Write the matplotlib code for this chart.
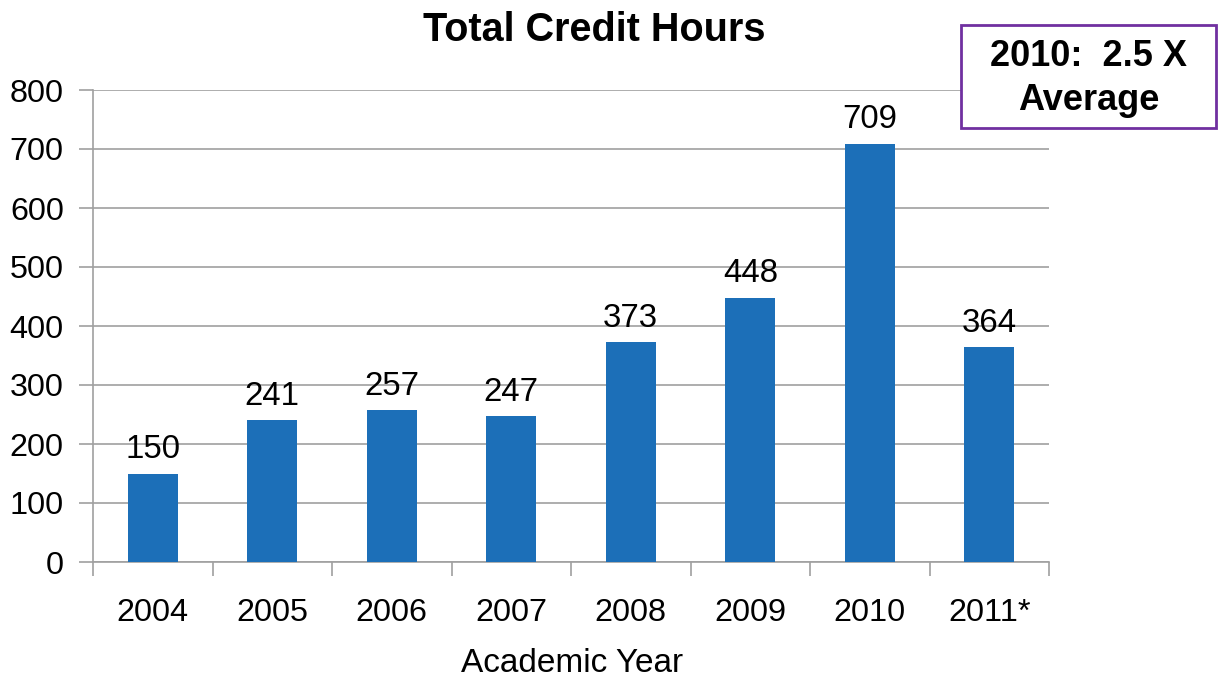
import matplotlib
matplotlib.use("Agg")
import matplotlib.pyplot as plt
import numpy as np

years = ["2004", "2005", "2006", "2007", "2008", "2009", "2010", "2011*"]
hours = [150, 241, 257, 247, 373, 448, 709, 364]
yticks = [0, 100, 200, 300, 400, 500, 600, 700, 800]

plt.rcParams['font.family'] = ['Liberation Sans', 'DejaVu Sans']

W, H = 1218, 681
fig = plt.figure(figsize=(W / 100, H / 100), dpi=100)
ax = fig.add_axes([93 / W, 1 - 562 / H, (1049 - 93) / W, (562 - 90) / H])

x = np.arange(len(years))
bar_color = '#1c6fb8'
grid_color = '#a0a0a0'
ax.bar(x, hours, width=0.42, color=bar_color, zorder=3)
for xi, v in zip(x, hours):
    ax.text(xi, v + 14, str(v), ha='center', va='bottom', fontsize=23.8, color='black')

ax.set_xlim(-0.5, len(years) - 0.5)
ax.set_ylim(0, 800)
ax.set_yticks(yticks)
ax.set_yticklabels([str(t) for t in yticks], fontsize=23.3)
ax.yaxis.grid(True, color=grid_color, linewidth=1.2, zorder=0)
ax.tick_params(axis='y', length=10, width=1.2, color=grid_color, pad=11)

ax.set_xticks(x)
ax.set_xticklabels(years, fontsize=23.3)
ax.set_xticks(np.arange(-0.5, len(years)), minor=True)
ax.tick_params(axis='x', which='major', length=0, pad=26)
ax.tick_params(axis='x', which='minor', length=10, width=1.2, color=grid_color)

for s in ['top', 'right']:
    ax.spines[s].set_visible(False)
for s in ['left', 'bottom']:
    ax.spines[s].set_color(grid_color)
    ax.spines[s].set_linewidth(1.2)

fig.text(572 / W, 1 - 664 / H, "Academic Year", fontsize=24, ha='center', va='center')
fig.text(594 / W, 1 - 30 / H, "Total Credit Hours", fontsize=28.5, fontweight='bold',
         ha='center', va='center')

# annotation box
bx0, by0, bx1, by1 = 961, 25, 1216, 128
rect = plt.Rectangle((bx0 / W, 1 - by1 / H), (bx1 - bx0) / W, (by1 - by0) / H,
                     transform=fig.transFigure, facecolor='white', edgecolor='#7030a0',
                     linewidth=2, zorder=10)
fig.add_artist(rect)
fig.text((bx0 + bx1) / 2 / W, 1 - 57 / H, "2010:  2.5 X", fontsize=26, fontweight='bold',
         ha='center', va='center', zorder=11)
fig.text((bx0 + bx1) / 2 / W, 1 - 100 / H, "Average", fontsize=26, fontweight='bold',
         ha='center', va='center', zorder=11)

fig.savefig("out.png", dpi=100)
